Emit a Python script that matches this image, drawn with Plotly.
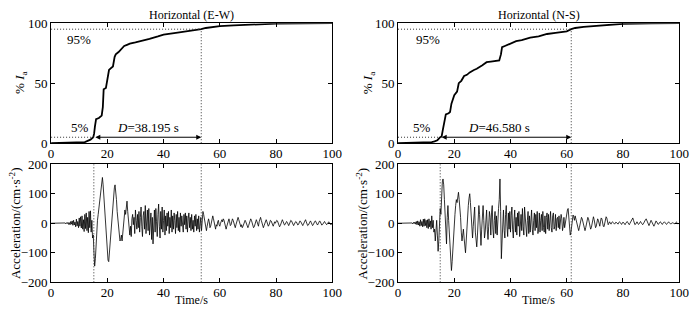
import numpy as np
import plotly.graph_objects as go

# ---------------- data ----------------
# Arias intensity (% Ia) curves
ew_ia_t = [0, 5, 10, 12, 13, 14, 15, 15.3, 15.6, 16, 17, 18, 18.4, 18.7, 19.5, 20, 20.6, 21, 22, 22.6, 23, 24,
           25, 26, 27, 28, 30, 32, 35, 38, 40, 45, 50, 53.4, 55, 60, 65, 70, 80, 90, 100]
ew_ia_v = [0, 0.2, 0.5, 1, 2, 3, 5, 8, 14, 20, 21, 23, 30, 45, 46, 52, 61, 62, 64, 72, 74, 76,
           79, 81, 82, 83, 84, 85, 87, 89, 90.5, 92.2, 93.5, 95, 96, 97.5, 98.2, 98.8, 99.6, 99.9, 100]

ns_ia_t = [0, 5, 10, 12, 13, 14, 15, 15.5, 16, 16.5, 17, 18, 18.5, 19, 19.6, 20, 21, 21.6, 22.5, 23.5, 24.5,
           25.5, 27, 28, 30, 31.5, 33, 35, 36, 36.6, 37, 38, 40, 42, 44, 47, 50, 53, 56, 60, 61.6, 63, 66,
           70, 75, 80, 90, 100]
ns_ia_v = [0, 0.2, 0.4, 1, 1.5, 2.5, 5, 5.5, 12, 20, 24, 25, 26, 33, 38, 40, 43, 50, 52, 56, 57,
           59, 61, 62, 65, 67.5, 68, 68.5, 69, 74, 80, 81, 83, 85, 86, 88, 89, 91, 92, 93.2, 95, 96, 97,
           97.8, 98.8, 99.5, 99.9, 100]

# significant duration markers (s)
ew_t5, ew_t95 = 15.2, 53.4
ns_t5, ns_t95 = 15.0, 61.6
ew_label = "<i>D</i>=38.195 s"
ns_label = "<i>D</i>=46.580 s"

# acceleration records (cm/s^2), 4 samples per second from 0 to 100 s
ew_acc = [
    0, 0, 0, 0,   0, 0, 0, 0,   0, 0, 0, 0,   0, 0, 1, 0,   0, 1, -1, 0,
    1, -2, 2, -1,   3, -4, 2, -5,   6, -3, 8, -7,   10, -6, 4, -12,   14, -9, 6, -15,
    18, -10, 22, -16,   25, -20, 12, -28,   30, -18, 35, -25,   20, -32, 40, -15,   42, -30, 10, -50,
    -40, -100, -145, -120,   -60, -20, 10, 30,   50, 70, 95, 120,   140, 155, 130, 90,   50, 20, -20, -60,
    -100, -125, -130, -95,   -60, -30, 10, 50,   80, 105, 120, 130,   110, 80, 40, 10,   -20, -45, -60, -55,
    -40, -60, -30, -10,   20, 45, 30, 60,   75, 40, 10, -20,   -40, -10, -45, 15,   30, -5, 20, -35,
    45, 10, -20, 30,   -15, 40, -30, 20,   55, -10, -45, 25,   40, -20, 60, -35,   15, 45, -25, 50,
    -40, 10, 35, -55,   20, -70, -20, 45,   -30, 50, 5, -45,   30, 65, -10, -50,   40, -20, 55, -30,
    10, 45, -40, 25,   -25, 35, -10, 40,   -35, 20, -15, 45,   -30, 25, -20, 35,   10, -35, 30, -15,
    40, -25, 20, -30,   35, -10, 25, -20,   -30, 30, -5, 35,   -20, 25, -30, 15,   35, -15, 20, -25,
    30, -20, 10, -30,   25, -10, 30, -25,   15, -20, 25, -30,   -10, 20, -25, 10,   40, 30, 15, -5,
    -20, -25, -10, 5,   15, 5, -15, -10,   5, 20, 25, 15,   0, -15, -20, -5,   -10, 5, 10, -5,
    -10, 0, 8, 12,   5, 15, 10, -5,   -15, -20, -10, 0,   10, 15, 5, -8,   -5, 8, 15, 10,
    0, -10, -15, -5,   5, 15, 20, 12,   0, -8, -12, -5,   -15, -10, 0, 8,   10, 5, -5, -12,
    -15, -8, 2, 10,   15, 10, 0, -10,   -15, -12, -2, 8,   12, 5, -5, -10,   5, 18, 20, 10,
    -2, -10, -15, -8,   0, 8, 12, 5,   -5, -10, -6, 2,   10, 8, 0, -8,   -10, -3, 5, 0,
    5, 10, 8, 0,   -5, -12, -8, 0,   8, 12, 6, -2,   -6, -4, 2, 6,   3, -4, -8, -3,
    5, 10, 8, 2,   -5, -8, -3, 2,   6, 4, -2, -6,   -4, 2, 8, 6,   0, -5, -8, -3,
    4, 10, 12, 5,   -3, -8, -6, 0,   6, 8, 3, -4,   -8, -5, 2, 6,   8, 3, -4, -6,
    -2, 4, 8, 5,   -1, -6, -5, 0,   4, 6, 2, -3,   -5, -2, 3, 5,   2, -3, -5, -2,
    0]

ns_acc = [
    0, 0, 0, 0,   0, 0, 0, 0,   0, 0, 0, 0,   0, 0, 1, 0,   0, -1, 1, 0,
    1, -2, 3, -1,   4, -3, 6, -5,   8, -6, 5, -10,   12, -8, 6, -12,   14, -10, 15, -8,
    10, -15, 12, -18,   15, -12, 8, -20,   25, -15, 10, -30,   -20, -60, -30, 10,   -40, -95, -60, 20,
    50, 30, 100, 140,   150, 130, 80, 20,   -40, -70, 20, 60,   10, -40, -80, -120,   -160, -130, -80, -30,
    0, 30, 60, 80,   70, 90, 105, 80,   60, 20, -30, -60,   -40, -20, -50, -80,   -100, -60, -10, 30,
    60, 85, 100, 70,   40, -20, -50, -10,   30, 55, -30, -60,   -80, -40, 20, 60,   30, -40, -75, -20,
    40, 60, 10, -50,   -30, 30, 45, -20,   -55, -10, 40, 20,   -40, 35, 60, -20,   -50, 10, 40, -35,
    25, -40, 30, 50,   80, 150, 40, -120,   -60, 20, 45, -25,   -50, 30, 60, -10,   -45, 35, -20, 40,
    -30, 25, 55, -20,   -50, 10, 45, -30,   20, -40, 35, -10,   40, -45, 15, 30,   -25, 50, -10, -40,
    55, 20, -30, -45,   10, 40, -35, 25,   -30, 15, 45, -20,   -40, 10, 35, -25,   30, -15, 40, -35,
    -20, 35, -30, 10,   30, -25, 40, -15,   -30, 25, -35, 20,   35, -20, 30, -25,   10, 40, -15, -30,
    25, 35, -20, -10,   30, -25, 15, 20,   -15, 25, -20, 10,   30, 15, -25, -10,   20, -15, 5, 25,
    35, 45, 50, 10,   -20, -40, -30, 0,   20, 28, 22, 10,   25, 15, 0, -10,   -20, -25, -15, 0,
    10, 20, 15, 5,   -10, -20, -25, -15,   0, 12, 20, 15,   5, -10, -20, -15,   0, 15, 22, 12,
    -5, -15, -10, 5,   15, 10, -5, -10,   5, 18, 15, 0,   -10, -12, 0, 10,   22, 18, 5, -5,
    0, 5, 0, -3,   2, 5, 3, 0,   -3, 0, 4, 2,   0, -3, 2, 5,   3, -2, -4, 0,
    4, 2, -2, -5,   0, 4, 6, 2,   -3, -5, 0, 5,   8, 15, 18, 10,   2, -5, -3, 3,
    5, 0, -4, -2,   3, 6, 2, -3,   -5, -2, 4, 8,   12, 15, 8, 0,   -5, -8, -2, 5,
    10, 5, -3, -8,   -10, -5, 3, 8,   5, 0, -4, -2,   2, 5, 3, -2,   -4, 0, 3, 5,
    2, -2, -4, -1,   3, 5, 2, -2,   -3, 0, 3, 2,   0, -3, -2, 2,   4, 2, -2, -1,
    0]

ew_time = np.linspace(0, 100, len(ew_acc))
ns_time = np.linspace(0, 100, len(ns_acc))

titles = ["Horizontal (E-W)", "Horizontal (N-S)"]
x_ticks = [0, 20, 40, 60, 80, 100]
ia_ticks = [0, 50, 100]
acc_ticks = [-200, -100, 0, 100, 200]

# ---------------- figure ----------------
W, H = 700, 317
FONT = "Liberation Serif"

def px(x):
    return x / W

def py(y):
    return 1 - y / H

fig = go.Figure()

fig.add_trace(go.Scatter(x=ew_ia_t, y=ew_ia_v, mode="lines", line=dict(color="black", width=1.8),
                         xaxis="x", yaxis="y", showlegend=False))
fig.add_trace(go.Scatter(x=ns_ia_t, y=ns_ia_v, mode="lines", line=dict(color="black", width=1.8),
                         xaxis="x2", yaxis="y2", showlegend=False))
fig.add_trace(go.Scatter(x=ew_time, y=ew_acc, mode="lines", line=dict(color="black", width=0.8),
                         xaxis="x3", yaxis="y3", showlegend=False))
fig.add_trace(go.Scatter(x=ns_time, y=ns_acc, mode="lines", line=dict(color="black", width=0.8),
                         xaxis="x4", yaxis="y4", showlegend=False))

axis_common = dict(showline=True, linecolor="black", linewidth=1, mirror="ticks", ticks="inside",
                   ticklen=4, tickcolor="black", showgrid=False, zeroline=False,
                   ticklabeloverflow="allow",
                   tickfont=dict(family=FONT, size=13, color="black"))
xcommon = dict(axis_common, ticklabelstandoff=-2)

top_dom = [py(143), py(17)]
bot_dom = [py(289), py(165)]
left_dom = [px(49), px(335.5)]
right_dom = [px(402.5), px(689)]

fig.update_layout(
    width=W, height=H, margin=dict(l=0, r=0, t=0, b=0),
    paper_bgcolor="white", plot_bgcolor="white",
    font=dict(family=FONT, size=13, color="black"),
    xaxis=dict(domain=left_dom, range=[0, 100], tickvals=x_ticks, anchor="y", **xcommon),
    yaxis=dict(domain=top_dom, range=[0, 100], tickvals=ia_ticks, anchor="x", **axis_common),
    xaxis2=dict(domain=right_dom, range=[0, 100], tickvals=x_ticks, anchor="y2", **xcommon),
    yaxis2=dict(domain=top_dom, range=[0, 100], tickvals=ia_ticks, anchor="x2", **axis_common),
    xaxis3=dict(domain=left_dom, range=[0, 100], tickvals=x_ticks, anchor="y3", **xcommon),
    yaxis3=dict(domain=bot_dom, range=[-200, 200], tickvals=acc_ticks, anchor="x3", **axis_common),
    xaxis4=dict(domain=right_dom, range=[0, 100], tickvals=x_ticks, anchor="y4", **xcommon),
    yaxis4=dict(domain=bot_dom, range=[-200, 200], tickvals=acc_ticks, anchor="x4", **axis_common),
)

dot = dict(color="#333", width=1, dash="1px,2px")
shapes = []
annotations = []
panels = [("x", "y", "x3", "y3", ew_t5, ew_t95, ew_label, 34.5, 9.8, 10.2, titles[0], (49 + 336) / 2),
          ("x2", "y2", "x4", "y4", ns_t5, ns_t95, ns_label, 36.0, 10.5, 8.4, titles[1], (403 + 689) / 2)]
tf = dict(family=FONT, size=13, color="black")
tf12 = dict(family=FONT, size=12, color="black")
for xa, ya, xb, yb, t5, t95, lab, labx, x95, x5, title, cx in panels:
    shapes += [
        dict(type="line", xref=xa, yref=ya, x0=0, x1=t95, y0=95, y1=95, line=dot),
        dict(type="line", xref=xa, yref=ya, x0=t95, x1=t95, y0=0, y1=95, line=dot),
        dict(type="line", xref=xa, yref=ya, x0=0, x1=t5, y0=5, y1=5, line=dot),
        dict(type="line", xref=xb, yref=yb, x0=t5, x1=t5, y0=-200, y1=200, line=dot),
        dict(type="line", xref=xb, yref=yb, x0=t95, x1=t95, y0=-200, y1=200, line=dot),
    ]
    annotations += [
        dict(xref=xa, yref=ya, x=t95, y=5, ax=t5, ay=5, axref=xa, ayref=ya, text="", showarrow=True,
             arrowhead=2, arrowside="end+start", arrowsize=1, arrowwidth=1, arrowcolor="black"),
        dict(xref=xa, yref=ya, x=labx, y=5.5, text=lab, showarrow=False, yanchor="bottom", font=tf),
        dict(xref=xa, yref=ya, x=x95, y=94.5, text="95%", showarrow=False, yanchor="top", font=tf),
        dict(xref=xa, yref=ya, x=x5, y=5.5, text="5%", showarrow=False, yanchor="bottom", font=tf),
        dict(xref="paper", yref="paper", x=px(cx), y=py(8), text=title, showarrow=False,
             xanchor="center", yanchor="middle", font=tf12),
        dict(xref="paper", yref="paper", x=px(cx), y=py(308), text="Time/s", showarrow=False,
             xanchor="center", yanchor="middle", font=tf12),
    ]

for x0 in (18, 372):
    annotations.append(dict(xref="paper", yref="paper", x=px(x0), y=py(80), text="% <i>I</i><sub>a</sub>",
                            showarrow=False, textangle=-90, xanchor="center", yanchor="middle", font=tf))
for x0 in (12, 366):
    annotations.append(dict(xref="paper", yref="paper", x=px(x0), y=py(227),
                            text="Acceleration/(cm·s<sup>-2</sup>)",
                            showarrow=False, textangle=-90, xanchor="center", yanchor="middle", font=tf))

fig.update_layout(shapes=shapes, annotations=annotations)
fig.write_html("out.html", config={"displayModeBar": False, "staticPlot": True},
               post_script="document.body.style.margin='0px';")
